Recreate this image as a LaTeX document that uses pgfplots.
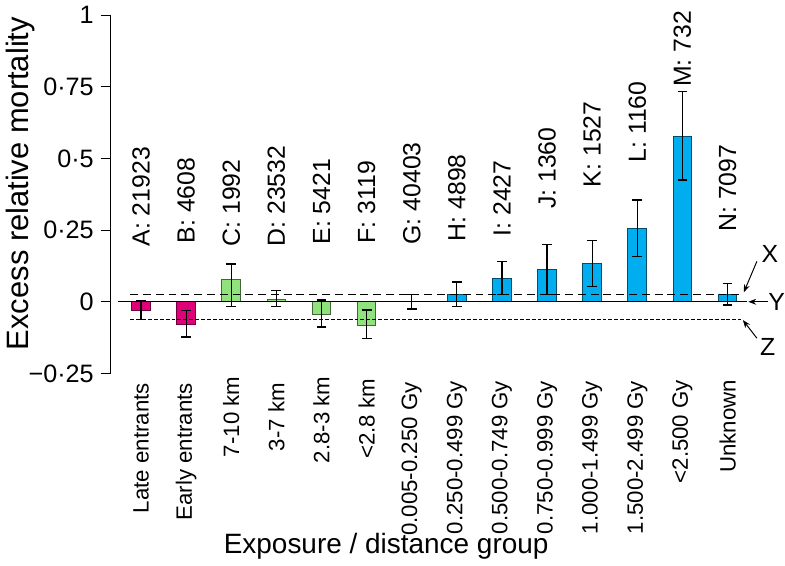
\documentclass[border=0pt]{standalone}
\usepackage{fontspec}
\setmainfont{Liberation Sans}
\usepackage{pgfplots}
\usepackage{pgfplotstable}
\pgfplotsset{compat=1.18}
\usetikzlibrary{arrows.meta}

\definecolor{cmag}{HTML}{E0007A}
\definecolor{cgreen}{HTML}{90E27C}
\definecolor{cblue}{HTML}{00AEEF}

\pgfplotstableread{
x y ep em
0 -0.031 0.034 0.031
1 -0.080 0.049 0.043
}\magtab
\pgfplotstableread{
x y ep em
2 0.078 0.054 0.094
3 0.009 0.029 0.025
4 -0.045 0.051 0.043
5 -0.082 0.053 0.046
}\greentab
\pgfplotstableread{
x y ep em
7 0.026 0.043 0.042
8 0.080 0.061 0.056
9 0.112 0.088 0.086
10 0.132 0.081 0.079
11 0.255 0.100 0.097
12 0.578 0.156 0.153
13 0.026 0.037 0.037
}\bluetab
\pgfplotstableread{
x y ep em
6 0.000 0.024 0.025
}\gtab
\pgfplotstableread[col sep=comma]{
x,y,lab
0,0.192,A: 21923
1,0.203,B: 4608
2,0.192,C: 1992
3,0.192,D: 23532
4,0.199,E: 5421
5,0.203,F: 3119
6,0.199,G: 40403
7,0.210,H: 4898
8,0.227,I: 2427
9,0.323,J: 1360
10,0.399,K: 1527
11,0.485,L: 1160
12,0.749,M: 732
13,0.244,N: 7097
}\labtab

\pgfplotsset{
  errstyle/.style={
    error bars/y dir=both,
    error bars/y explicit,
    error bars/error bar style={black, line width=0.6pt},
    error bars/error mark options={rotate=90, mark size=2.5pt, black, line width=0.6pt}
  },
  barstyle/.style={ybar, bar width=9.5pt, bar shift=0pt, line width=0.5pt}
}
\tikzset{catlab/.style={rotate=90, anchor=east, inner sep=0pt, font=\fontsize{11.3pt}{13pt}\selectfont}}

\begin{document}
\begin{tikzpicture}
\begin{axis}[
  scale only axis,
  width=325pt, height=182pt,
  xmin=-0.676, xmax=13.5,
  ymin=-0.25, ymax=1,
  clip=false,
  axis y line*=left,
  axis x line*=bottom,
  x axis line style={draw=none},
  y axis line style={-, line width=0.6pt},
  xtick=\empty,
  ytick={-0.25,0,0.25,0.5,0.75,1},
  yticklabels={−0·25, 0, 0·25, 0·5, 0·75, 1},
  yticklabel style={font=\fontsize{12.8pt}{14pt}\selectfont},
  tick align=outside,
  major tick length=5pt,
  ytick style={line width=0.6pt, black},
  xlabel={Exposure / distance group},
  xlabel style={at={(axis description cs:0.431,-0.483)}, anchor=center, font=\fontsize{14.2pt}{16pt}\selectfont},
  ylabel={Excess relative mortality},
  ylabel style={at={(axis description cs:-0.140,0.53)}, anchor=center, font=\fontsize{15.7pt}{18pt}\selectfont},
]
\addplot[barstyle, fill=cmag, draw=cmag!50!black, errstyle] table[x=x, y=y, y error plus=ep, y error minus=em]{\magtab};
\addplot[barstyle, fill=cgreen, draw=cgreen!45!black, errstyle] table[x=x, y=y, y error plus=ep, y error minus=em]{\greentab};
\addplot[barstyle, fill=cblue, draw=cblue!45!black, errstyle] table[x=x, y=y, y error plus=ep, y error minus=em]{\bluetab};
\addplot[draw=none, mark=none, errstyle] table[x=x, y=y, y error plus=ep, y error minus=em]{\gtab};

\addplot[black, line width=0.6pt] coordinates {(-0.5,0) (13.43,0)};
\addplot[black, line width=0.6pt, dash pattern=on 4pt off 2.5pt] coordinates {(-0.24,0.026) (13.35,0.026)};
\addplot[black, line width=0.6pt, dash pattern=on 2pt off 1pt] coordinates {(-0.24,-0.063) (13.30,-0.063)};

\addplot[draw=none, mark=none, nodes near coords, point meta=explicit symbolic,
  nodes near coords style={rotate=90, anchor=west, inner sep=0pt, text=black, font=\fontsize{12.6pt}{14pt}\selectfont}]
  table[x=x, y=y, meta=lab]{\labtab};

\node[catlab] at (axis cs:0,-0.283) {Late entrants};
\node[catlab] at (axis cs:1,-0.283) {Early entrants};
\node[catlab] at (axis cs:2,-0.260) {7-10 km};
\node[catlab] at (axis cs:3,-0.283) {3-7 km};
\node[catlab] at (axis cs:4,-0.260) {2.8-3 km};
\node[catlab] at (axis cs:5,-0.268) {<2.8 km};
\node[catlab] at (axis cs:6,-0.280) {0.005-0.250 Gy};
\node[catlab] at (axis cs:7,-0.275) {0.250-0.499 Gy};
\node[catlab] at (axis cs:8,-0.275) {0.500-0.749 Gy};
\node[catlab] at (axis cs:9,-0.275) {0.750-0.999 Gy};
\node[catlab] at (axis cs:10,-0.275) {1.000-1.499 Gy};
\node[catlab] at (axis cs:11,-0.275) {1.500-2.499 Gy};
\node[catlab] at (axis cs:12,-0.272) {<2.500 Gy};
\node[catlab] at (axis cs:13,-0.272) {Unknown};

\draw[-{Stealth[length=4pt,width=3pt]}, line width=0.5pt] (axis cs:13.65,0.141) -- (axis cs:13.36,0.033);
\draw[-{Stealth[length=4pt,width=3pt]}, line width=0.5pt] (axis cs:13.89,0) -- (axis cs:13.46,0);
\draw[-{Stealth[length=4pt,width=3pt]}, line width=0.5pt] (axis cs:13.65,-0.127) -- (axis cs:13.34,-0.064);
\node[font=\fontsize{12.6pt}{14pt}\selectfont, inner sep=0pt] at (axis cs:13.94,0.168) {X};
\node[font=\fontsize{12.6pt}{14pt}\selectfont, inner sep=0pt] at (axis cs:14.09,0) {Y};
\node[font=\fontsize{12.6pt}{14pt}\selectfont, inner sep=0pt] at (axis cs:13.89,-0.158) {Z};
\end{axis}
\end{tikzpicture}
\end{document}
